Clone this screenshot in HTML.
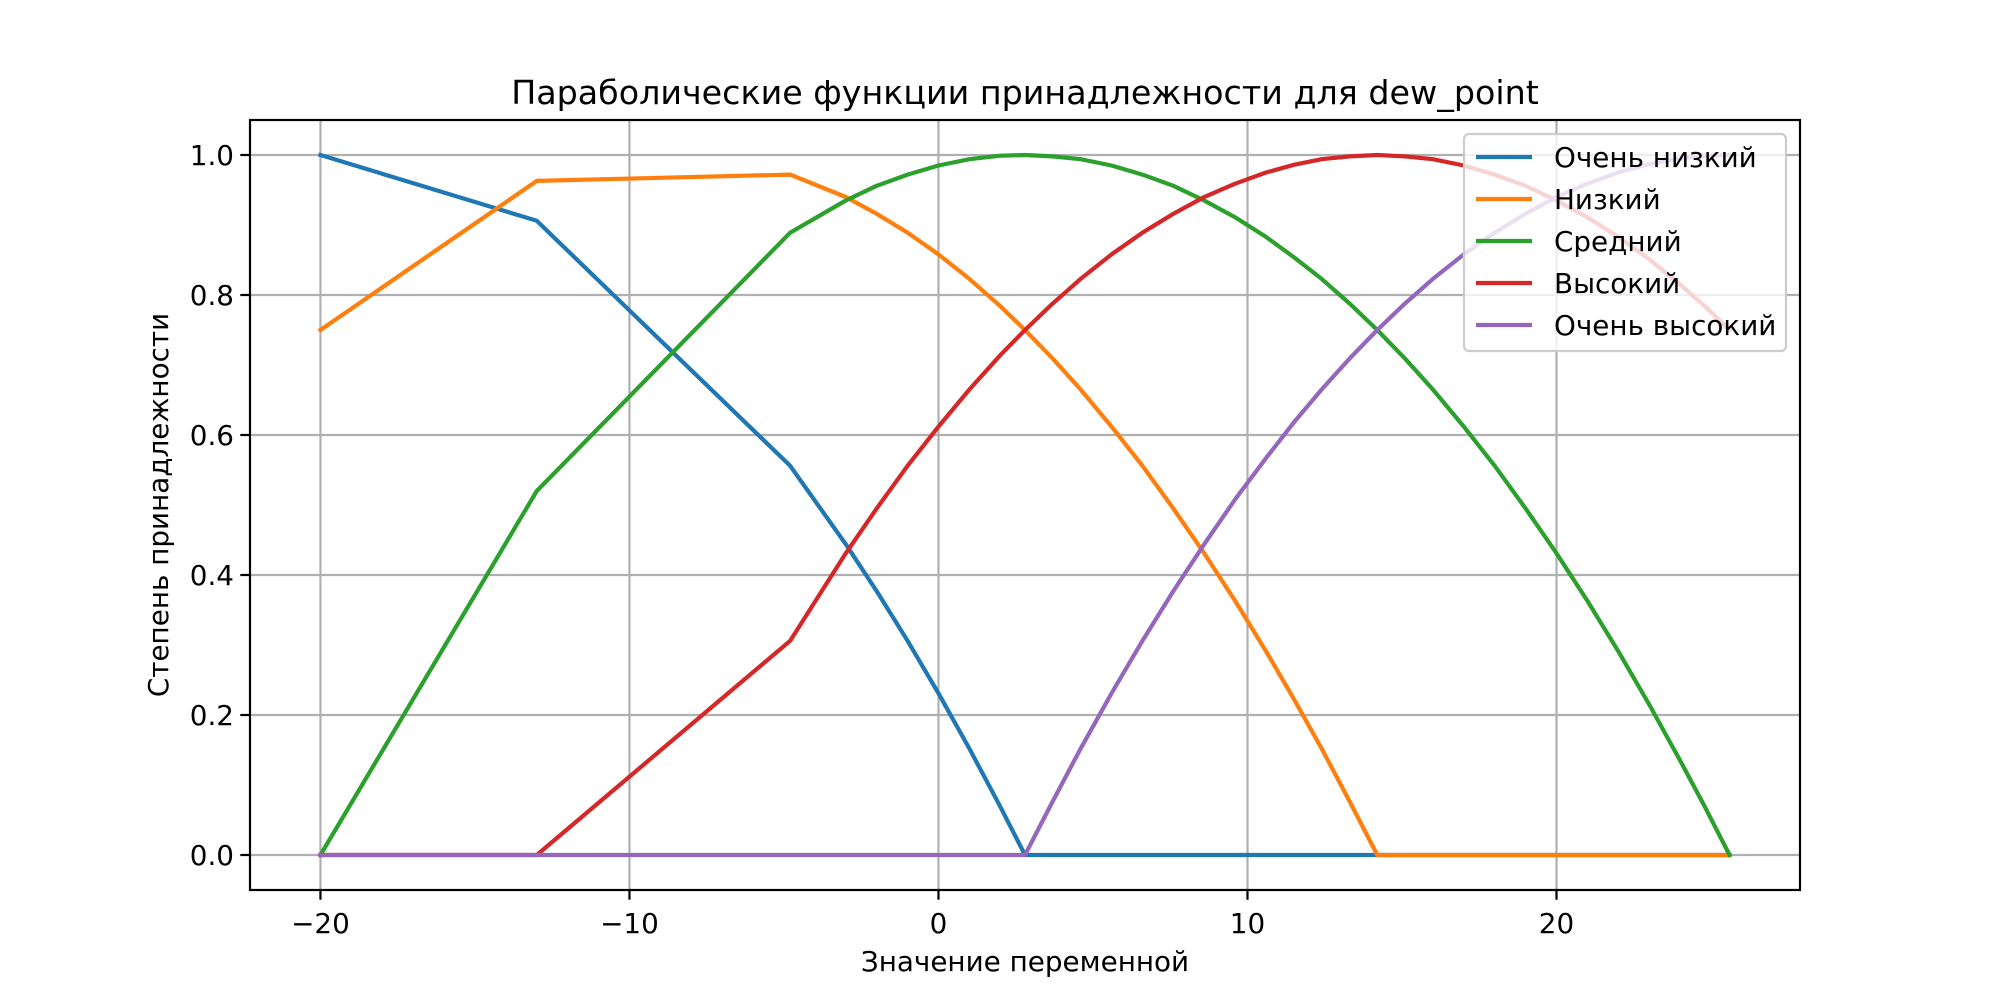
<!DOCTYPE html>
<html><head><meta charset="utf-8"><style>
html,body{margin:0;padding:0;background:#fff;}
svg{display:block;font-family:"DejaVu Sans","Liberation Sans",sans-serif;}
</style></head><body>
<svg id="chart" width="2000" height="1000" viewBox="0 0 2000 1000" xmlns="http://www.w3.org/2000/svg">
<rect width="2000" height="1000" fill="#fff"/>
<text x="1025" y="104" font-size="33.3" text-anchor="middle" fill="#000">Параболические функции принадлежности для dew_point</text>
<text x="1025" y="971" font-size="27.8" text-anchor="middle" fill="#000">Значение переменной</text>
<text x="0" y="0" font-size="27.8" text-anchor="middle" fill="#000" transform="translate(168,505) rotate(-90)">Степень принадлежности</text>
<g id="grid"></g><g id="series"></g><g id="ticks"></g>
<rect x="250" y="120" width="1550" height="770" fill="none" stroke="#000" stroke-width="2.2"/>
<g id="legend"></g>
</svg>
<script>
const xs=[-20,-13,-4.8,-3,-2,-1,0,1,2,2.8,3.7,4.6,5.6,6.6,7.6,8.6,9.6,10.6,11.5,12.4,13.3,14.2,15.1,16,17,18,19,20,21,22,23,24,24.8,25.6];
const seriesNames=["Очень низкий","Низкий","Средний","Высокий","Очень высокий"];
const veryLow=[1,.906,.556,.444,.377,.306,.231,.152,.069,0,0,0,0,0,0,0,0,0,0,0,0,0,0,0,0,0,0,0,0,0,0,0,0,0];
const low=[.75,.963,.972,.940,.916,.889,.858,.823,.784,.75,.709,.665,.612,.556,.495,.431,.363,.291,.223,.152,.077,0,0,0,0,0,0,0,0,0,0,0,0,0];
const medium=[0,.520,.889,.935,.956,.972,.985,.994,.999,1,.998,.994,.985,.972,.956,.935,.911,.883,.854,.823,.788,.75,.709,.665,.612,.556,.495,.431,.363,.291,.215,.135,.069,0];
const high=[0,0,.306,.431,.495,.556,.612,.665,.714,.75,.788,.823,.858,.889,.916,.940,.959,.975,.986,.994,.998,1,.998,.994,.985,.972,.956,.935,.911,.883,.851,.815,.784,.75];
const veryHigh=[0,0,0,0,0,0,0,0,0,0,.077,.152,.231,.306,.377,.444,.508,.567,.618,.665,.709,.75,.788,.823,.858,.889,.916,.940,.959,.975,.987,.995,.999,1];
const xTicks=[-20,-10,0,10,20];
const yTicks=[0,0.2,0.4,0.6,0.8,1.0];
const colors=["#1f77b4","#ff7f0e","#2ca02c","#d62728","#9467bd"];
const allSeries=[veryLow,low,medium,high,veryHigh];
const X0=250,X1=1800,Y0=890,Y1=120,xmin=-22.28,xmax=27.88,ymin=-0.05,ymax=1.05;
const sx=v=>X0+(v-xmin)/(xmax-xmin)*(X1-X0);
const sy=v=>Y0-(v-ymin)/(ymax-ymin)*(Y0-Y1);
const NS="http://www.w3.org/2000/svg";
function mk(t,a,p){const e=document.createElementNS(NS,t);for(const k in a)e.setAttribute(k,a[k]);p.appendChild(e);return e;}
const grid=document.getElementById('grid'),ticks=document.getElementById('ticks'),ser=document.getElementById('series'),leg=document.getElementById('legend');
xTicks.forEach(v=>{const x=sx(v);
 const g=mk('line',{x1:x,x2:x,y1:Y1,y2:Y0,stroke:'#b0b0b0','stroke-width':2.2},grid);
 
 
 mk('line',{x1:x,x2:x,y1:Y0,y2:Y0+9.7,stroke:'#000','stroke-width':2.2},ticks);
 const t=mk('text',{x:x,y:Y0+43,'font-size':27.8,'text-anchor':'middle',fill:'#000'},ticks);
 t.textContent=(v<0?'\u2212'+(-v):''+v);
 
 
});
yTicks.forEach(v=>{const y=sy(v);
 const g=mk('line',{x1:X0,x2:X1,y1:y,y2:y,stroke:'#b0b0b0','stroke-width':2.2},grid);
 
 
 mk('line',{x1:X0-9.7,x2:X0,y1:y,y2:y,stroke:'#000','stroke-width':2.2},ticks);
 const t=mk('text',{x:X0-16,y:y+10,'font-size':27.8,'text-anchor':'end',fill:'#000'},ticks);
 t.textContent=v.toFixed(1);
 
 
});
allSeries.forEach((s,i)=>{
 const p=mk('polyline',{points:s.map((v,j)=>sx(xs[j])+','+sy(v)).join(' '),fill:'none',stroke:colors[i],'stroke-width':4.2,'stroke-linejoin':'round','stroke-linecap':'square'},ser);
 
 
});
const lb=mk('rect',{x:1464,y:134,width:322,height:217,rx:5,fill:'#fff','fill-opacity':0.8,stroke:'#ccc','stroke-width':2.2},leg);


seriesNames.forEach((n,i)=>{const y=157+i*42;
 mk('line',{x1:1476,x2:1532,y1:y,y2:y,stroke:colors[i],'stroke-width':4.2},leg);
 const t=mk('text',{x:1554,y:y+10,'font-size':27.8,fill:'#000'},leg);
 t.textContent=n;
 
 
});
</script>
</body></html>
